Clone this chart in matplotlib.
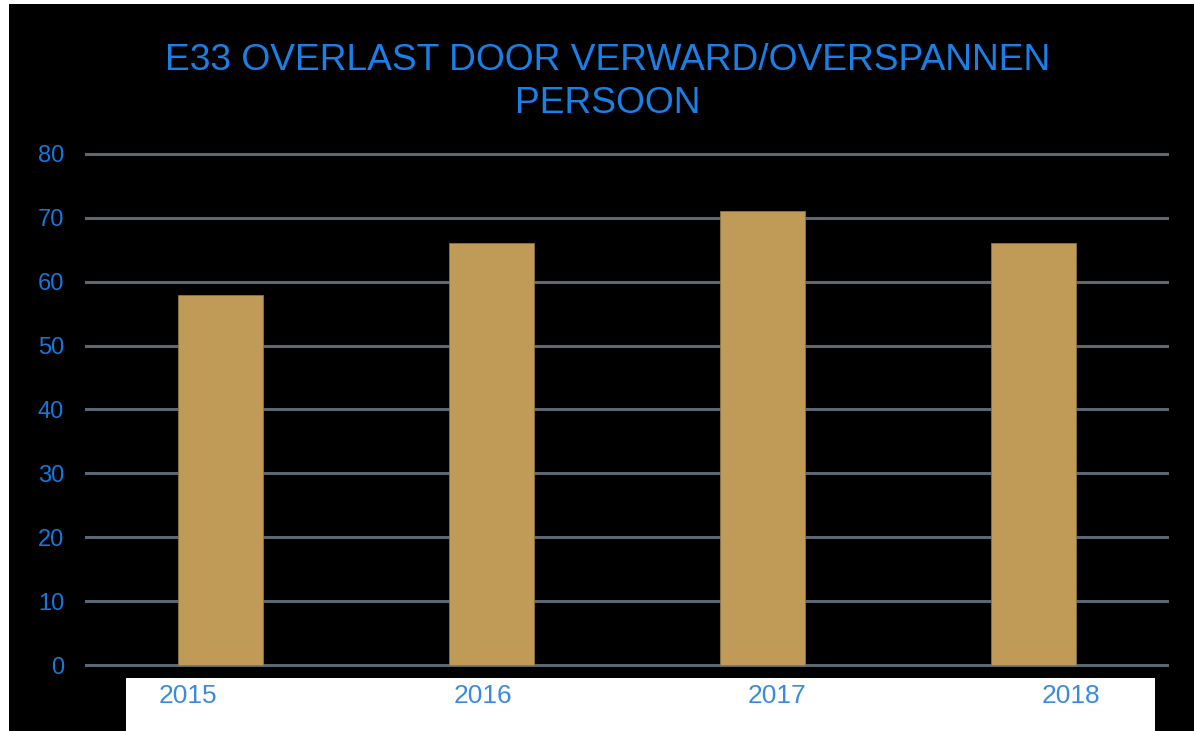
import matplotlib.pyplot as plt
from matplotlib.patches import Rectangle

# data
years = ['2015', '2016', '2017', '2018']
counts = [58, 66, 71, 66]
y_ticks = [0, 10, 20, 30, 40, 50, 60, 70, 80]

title = 'E33 OVERLAST DOOR VERWARD/OVERSPANNEN\nPERSOON'

W, H = 1194, 731
fig = plt.figure(figsize=(W / 100, H / 100), dpi=100, facecolor='white')
plt.rcParams['font.family'] = ['Liberation Sans', 'DejaVu Sans']

# black slide background with a white strip under the axis
fig.patches.append(Rectangle((9 / W, 0), 1 - 9 / W, 1 - 4 / H, transform=fig.transFigure,
                             facecolor='black', edgecolor='none', zorder=-2))
fig.patches.append(Rectangle((126 / W, 0), (1155 - 126) / W, (H - 678) / H, transform=fig.transFigure,
                             facecolor='white', edgecolor='none', zorder=-1))

# axes placed so that y=0 sits at pixel 665 and y=80 at pixel 154
px = (665 - 154) / 80.0
bottom_px = 665 + px
top_px = 154 - px
pos = [85 / W, (H - bottom_px) / H, (1169 - 85) / W, (bottom_px - top_px) / H]
ax = fig.add_axes(pos)
ax.set_facecolor('none')

x = range(len(years))
ax.bar(x, counts, width=0.31, color='#BF9B57', edgecolor='#8f7440', linewidth=0.6, zorder=3)

ax.set_xlim(-0.5, 3.5)
ax.set_ylim(-1, 81)
ax.set_yticks(y_ticks)
ax.set_xticks([])
ax.yaxis.grid(True, color='#5d6773', linewidth=2.2, zorder=0)
ax.set_axisbelow(True)
for s in ax.spines.values():
    s.set_visible(False)
ax.tick_params(axis='y', length=0, pad=15, labelsize=17, labelcolor='#1479dc')

# the year labels in the reference sit on a pasted strip, spaced a bit wider than the bars
lab = fig.add_axes(pos, sharey=None)
lab.set_facecolor('none')
lab.set_xlim(-0.351, 3.332)
lab.set_ylim(-1, 81)
lab.set_xticks(list(x))
lab.set_xticklabels(years)
lab.set_yticks([])
for s in lab.spines.values():
    s.set_visible(False)
lab.tick_params(axis='x', length=0, pad=9, labelsize=19, labelcolor='#3a8be0')

fig.text(608 / W, 1 - 82 / H, title, ha='center', va='center', fontsize=26.7,
         color='#1a80e8', linespacing=1.32)

fig.savefig('out.png', dpi=100, facecolor='white')
